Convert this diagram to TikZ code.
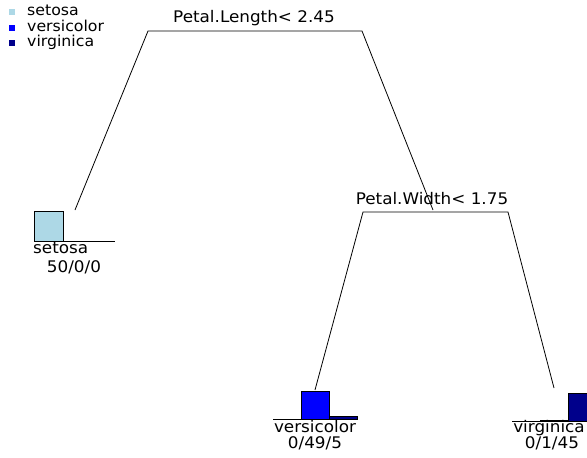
\documentclass[tikz,border=0pt]{standalone}
\usepackage{fontspec}
\setmainfont[FakeStretch=1.05]{DejaVu Sans}
\definecolor{cset}{HTML}{ADD8E6}
\definecolor{cver}{HTML}{0000FF}
\definecolor{cvir}{HTML}{00008B}
\begin{document}
\begin{tikzpicture}[x=1pt,y=-1pt,
  lab/.style={inner sep=0pt,font=\fontsize{16}{18}\selectfont},
  leglab/.style={inner sep=0pt,font=\fontsize{15}{16}\selectfont,text height=9pt,text depth=2pt},
  edge/.style={draw=black,line width=0.8pt},
  bar/.style={draw=black,line width=0.8pt},
  legsq/.style={inner sep=0pt,minimum size=6pt}]
\useasboundingbox (0,0) rectangle (587,458);
\clip (0,0) rectangle (587,458);
% legend
\node[legsq,fill=cset] (k1) at (12,12) {};
\node[legsq,fill=cver] (k2) at (12,28) {};
\node[legsq,fill=cvir] (k3) at (12,43) {};
\node[leglab,anchor=west] (t1) at (27,12) {setosa};
\node[leglab,anchor=west] (t2) at (27,28) {versicolor};
\node[leglab,anchor=west] (t3) at (27,43) {virginica};
% split 1
\node[lab] (s1) at (254,18) {Petal.Length< 2.45};
\coordinate (s1l) at (148,31);
\coordinate (s1r) at (362,31);
\coordinate (leaf1top) at (75,210);
\coordinate (s2top) at (433,210);
\draw[edge] (leaf1top) -- (s1l) -- (s1r) -- (s2top);
% split 2
\node[lab] (s2) at (432,199) {Petal.Width< 1.75};
\coordinate (s2l) at (363,212);
\coordinate (s2r) at (508,212);
\coordinate (leaf2top) at (315,390);
\coordinate (leaf3top) at (554,388);
\draw[edge] (leaf2top) -- (s2l) -- (s2r) -- (leaf3top);
% leaf setosa
\draw[bar,fill=cset] (34,211) rectangle (63,241);
\draw[edge] (34,241) -- (115,241);
\node[lab,anchor=west] (l1a) at (33,248) {setosa};
\node[lab] (l1b) at (74,267) {50/0/0};
% leaf versicolor
\draw[bar,fill=cver] (301,391.5) rectangle (329,419);
\draw[bar,fill=cvir] (329,416.5) rectangle (357,419);
\draw[edge] (273,419) -- (357,419);
\node[lab] (l2a) at (315,427) {versicolor};
\node[lab] (l2b) at (315,443) {0/49/5};
% leaf virginica
\draw[bar,fill=cver] (540,420.4) rectangle (568,421);
\draw[bar,fill=cvir] (568,393) rectangle (596,421);
\draw[edge] (512,421) -- (596,421);
\node[lab] (l3a) at (549,428) {virginica};
\node[lab] (l3b) at (552,443) {0/1/45};
\end{tikzpicture}
\end{document}
